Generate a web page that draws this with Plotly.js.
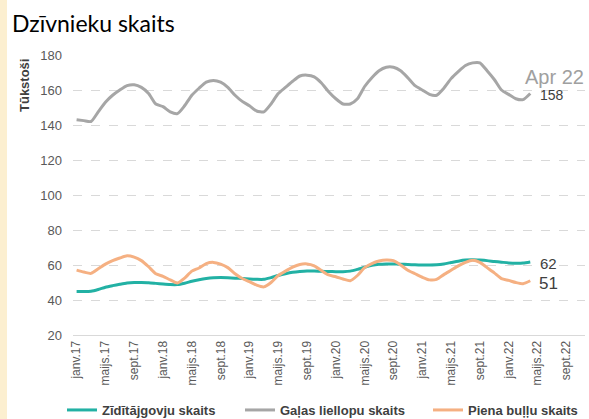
<!DOCTYPE html>
<html>
<head>
<meta charset="utf-8">
<script src="https://cdn.plot.ly/plotly-3.0.1.min.js"></script>
<style>
  html, body { margin: 0; padding: 0; background: #fcefd0; overflow: hidden; }
  #chart { position: absolute; left: 7px; top: 0; width: 582px; height: 419px; background: #fff; }
</style>
</head>
<body>
<div id="chart"></div>
<script>
// Monthly categories Jan 2017 – Dec 2022 (Latvian month abbreviations)
const monthNames = ["janv.", "febr.", "marts.", "apr.", "maijs.", "jūn.", "jūl.", "aug.", "sept.", "okt.", "nov.", "dec."];
const years = ["17", "18", "19", "20", "21", "22"];
const categories = [];
years.forEach(y => monthNames.forEach(m => categories.push(m + y)));
const tickLabels = categories.filter((c, i) => i % 4 === 0);

// Series (thousands), Jan 2017 – Apr 2022
const zidita = [44.8, 44.8, 45, 46, 47.3, 48.2, 49, 49.7, 50, 50, 49.9, 49.5,
  49.1, 48.8, 48.8, 49.6, 50.7, 51.6, 52.3, 52.7, 52.8, 52.7, 52.5, 52.3,
  52, 51.8, 51.8, 52.8, 54, 55, 55.8, 56.3, 56.6, 56.6, 56.4, 56.3,
  56.2, 56.2, 56.5, 57.5, 58.7, 59.8, 60.4, 60.6, 60.6, 60.5, 60.3, 60.1,
  60, 60, 60.1, 60.6, 61.4, 62.2, 62.8, 63, 62.8, 62.5, 62, 61.6,
  61.2, 61, 61.1, 61.7];
const galas = [143, 142.5, 142, 147.5, 153, 157, 160, 162.5, 163, 161.5, 158, 152,
  150.5, 147.5, 146.5, 151, 157, 161, 164.5, 165.5, 164.5, 161.5, 157, 153.5,
  151, 148, 147.5, 152, 158, 161.5, 165, 168, 168.5, 167.5, 164, 159,
  155, 152, 152, 155, 162, 167, 171, 173, 173, 171, 167, 162.5,
  160, 157.5, 157, 161, 166.5, 170.5, 174, 175.5, 175.5, 171, 166, 160,
  157.5, 155, 154.5, 158];
const piena = [57.1, 56, 55.2, 57.8, 60.5, 62.5, 64, 65.3, 64.5, 62.5, 59, 55,
  53.5, 51.5, 49.7, 52.5, 56.5, 58.3, 60.8, 61.5, 60.5, 58.5, 55, 52.3,
  50.5, 48.5, 47.5, 50, 54, 56.5, 58.8, 60.3, 60.6, 59.5, 56.8, 54.3,
  53.3, 52, 51, 54, 58.5, 60.8, 62.3, 62.9, 62.5, 60, 57, 55,
  53, 51.5, 51.8, 54.5, 57, 59.5, 61.5, 62.7, 61.5, 58.5, 55.5, 52.2,
  51.2, 50, 49.3, 51];
const seriesNames = ["Zīdītājgovju skaits", "Gaļas liellopu skaits", "Piena buļļu skaits"];
const lastLabel = "Apr 22";

const xs = categories.slice(0, galas.length);
const colors = ["#22b1a4", "#a6a6a6", "#f5b082"];
const legendFont = { family: "Liberation Sans", size: 13, color: "#404040", weight: "bold" };

const mk = (y, name, color, leg) => ({
  type: "scatter", mode: "lines", x: xs, y: y, name: name,
  line: { color: color, width: 3, shape: "spline", smoothing: 0.6 },
  legend: leg, hoverinfo: "skip"
});
const data = [
  mk(zidita, seriesNames[0], colors[0], "legend"),
  mk(galas, seriesNames[1], colors[1], "legend2"),
  mk(piena, seriesNames[2], colors[2], "legend3")
];

const L = 66, W = 582, R = 4, H = 419;
const plotW = W - L - R;
const px = abs => (abs - 73) / plotW;
const cx = abs => (abs - 7) / W;
const legBase = { orientation: "h", xref: "container", yref: "container", xanchor: "left", yanchor: "middle",
  y: 1 - 410 / H, font: legendFont, bgcolor: "rgba(0,0,0,0)", borderwidth: 0 };

const last = galas.length - 1;
const layout = {
  width: W, height: H,
  margin: { l: L, r: R, t: 55, b: 84, autoexpand: false },
  paper_bgcolor: "#ffffff", plot_bgcolor: "#ffffff",
  font: { family: "Liberation Sans", color: "#595959" },
  title: { text: "Dzīvnieku skaits", x: 5 / W, xanchor: "left", y: 1 - 24 / H, yanchor: "middle",
    font: { family: "Lato", size: 23, color: "#000000" } },
  xaxis: {
    type: "category", categoryorder: "array", categoryarray: categories, automargin: false,
    range: [-0.5, 70.6], tickmode: "array", tickvals: tickLabels, ticktext: tickLabels,
    tickangle: -90, tickfont: { size: 12, color: "#595959" },
    showgrid: false, showline: true, linecolor: "#d9d9d9", linewidth: 1, ticks: "", fixedrange: true
  },
  yaxis: {
    range: [20, 180], dtick: 20, tick0: 20, showgrid: true, gridcolor: "#d9d9d9", griddash: "dash", gridwidth: 1,
    zeroline: false, showline: false, ticks: "", ticklabelstandoff: 10, automargin: false,
    tickfont: { size: 13, color: "#595959" }, fixedrange: true
  },
  showlegend: true,
  legend: Object.assign({}, legBase, { x: cx(62) }),
  legend2: Object.assign({}, legBase, { x: cx(240) }),
  legend3: Object.assign({}, legBase, { x: cx(428) }),
  annotations: [
    { xref: "paper", yref: "paper", x: (24 - 73) / plotW, y: (335 - 86) / 280, text: "<b>Tūkstoši</b>", textangle: -90,
      showarrow: false, font: { family: "Liberation Sans", size: 13, color: "#404040" }, xanchor: "center", yanchor: "middle" },
    { xref: "paper", yref: "y", x: px(554), y: 167.4, text: lastLabel, showarrow: false,
      font: { family: "Liberation Sans", size: 20, color: "#a0a0a0" }, xanchor: "center", yanchor: "middle" },
    { xref: "paper", yref: "y", x: px(552), y: 157.1, text: String(Math.round(galas[last])), showarrow: false,
      font: { family: "Liberation Sans", size: 14, color: "#404040" }, xanchor: "center", yanchor: "middle" },
    { xref: "paper", yref: "y", x: px(548), y: 61.1, text: String(Math.round(zidita[last])), showarrow: false,
      font: { family: "Liberation Sans", size: 15, color: "#404040" }, xanchor: "center", yanchor: "middle" },
    { xref: "paper", yref: "y", x: px(548), y: 49.7, text: String(Math.round(piena[last])), showarrow: false,
      font: { family: "Liberation Sans", size: 17, color: "#404040" }, xanchor: "center", yanchor: "middle" }
  ]
};

Plotly.newPlot("chart", data, layout, { staticPlot: true, displayModeBar: false });
</script>
</body>
</html>
